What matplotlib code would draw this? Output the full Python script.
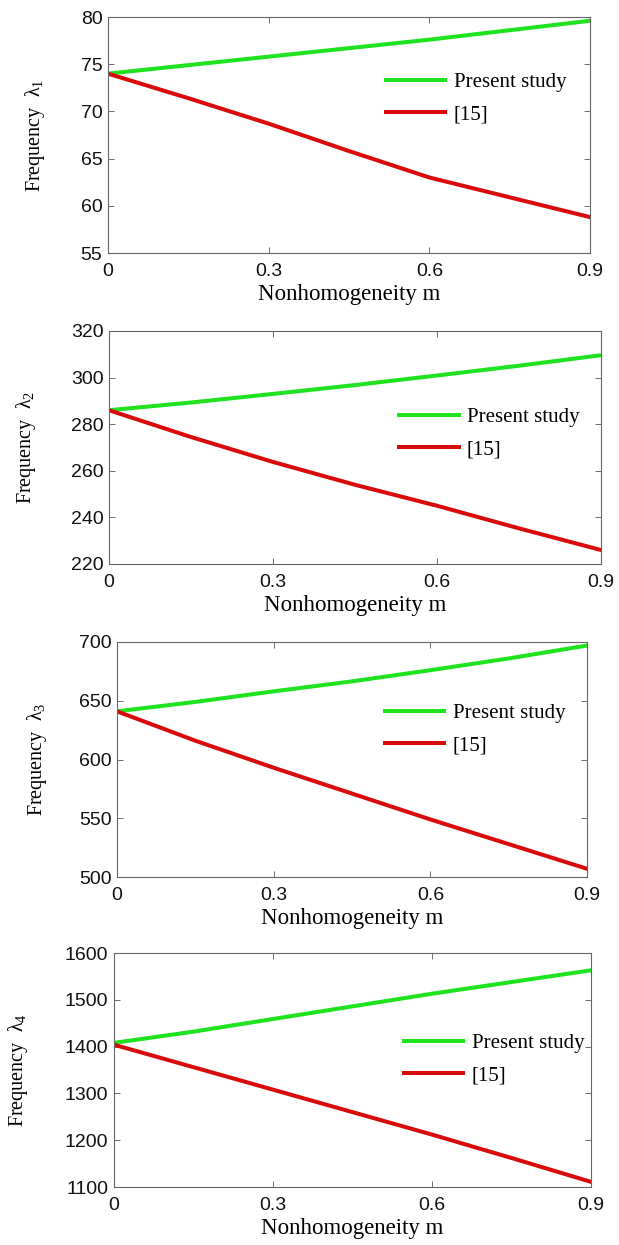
import matplotlib
matplotlib.use("Agg")
import matplotlib.pyplot as plt

# nonhomogeneity parameter
m = [0.0, 0.15, 0.3, 0.45, 0.6, 0.75, 0.9]

# frequencies, modes 1..4
present_1 = [74.0, 74.9, 75.8, 76.7, 77.6, 78.6, 79.6]
ref15_1 = [74.0, 71.4, 68.7, 65.8, 63.0, 60.9, 58.8]
present_2 = [286, 289.3, 293, 296.8, 300.9, 305.1, 309.6]
ref15_2 = [286, 274.5, 263.8, 254, 245, 235.3, 226]
present_3 = [641, 649, 658, 666.5, 676, 686, 697]
ref15_3 = [641, 616, 593, 571, 549, 528, 507]
present_4 = [1408, 1432, 1459, 1486, 1513, 1538, 1563]
ref15_4 = [1404, 1356, 1308, 1260, 1212, 1162, 1111]

x_ticks = [0, 0.3, 0.6, 0.9]
x_ticklabels = ["0", "0.3", "0.6", "0.9"]
y_ticks = [
    [55, 60, 65, 70, 75, 80],
    [220, 240, 260, 280, 300, 320],
    [500, 550, 600, 650, 700],
    [1100, 1200, 1300, 1400, 1500, 1600],
]
present = [present_1, present_2, present_3, present_4]
ref15 = [ref15_1, ref15_2, ref15_3, ref15_4]

W, H = 619, 1245
# axes boxes in pixels: left, top, right, bottom
boxes = [
    (108, 17, 590, 253),
    (109, 331, 601, 564),
    (117, 642, 587, 877),
    (114, 953, 591, 1187),
]
ylab_x = [47, 38, 49, 30]
leg_anchor = [(0.577, 0.765), (0.59, 0.672), (0.57, 0.737), (0.608, 0.655)]

serif = ["Liberation Serif", "DejaVu Serif"]
sans = ["Liberation Sans", "DejaVu Sans"]
plt.rcParams["mathtext.fontset"] = "custom"
plt.rcParams["mathtext.rm"] = "Liberation Serif"

green = "#1fe31f"
red = "#d80a0a"

fig = plt.figure(figsize=(W / 100, H / 100), dpi=100)

for i in range(4):
    l, t, r, b = boxes[i]
    ax = fig.add_axes([l / W, 1 - b / H, (r - l) / W, (b - t) / H])
    ax.plot(m, present[i], color=green, lw=2.9, label="Present study")
    ax.plot(m, ref15[i], color=red, lw=2.9, label="[15]")
    ax.set_xlim(0, 0.9)
    ax.set_ylim(y_ticks[i][0], y_ticks[i][-1])
    ax.set_xticks(x_ticks)
    ax.set_xticklabels(x_ticklabels, family=sans, fontsize=14)
    ax.set_yticks(y_ticks[i])
    ax.set_yticklabels([str(v) for v in y_ticks[i]], family=sans, fontsize=14)
    ax.tick_params(direction="in", top=True, right=True, length=4, width=0.6,
                   colors="#555555", labelcolor="#111111")
    ax.tick_params(axis="x", pad=7)
    ax.tick_params(axis="y", pad=4)
    for s in ax.spines.values():
        s.set_linewidth(0.8)
        s.set_color("#666666")
    ax.set_xlabel("Nonhomogeneity m", family=serif, fontsize=16.5, labelpad=3)
    ax.set_ylabel("Frequency  λ$_{%d}$" % (i + 1), family=serif, fontsize=14.5)
    ax.yaxis.set_label_coords((ylab_x[i] - l) / (r - l), 0.5)
    ax.legend(loc="upper left", bbox_to_anchor=leg_anchor[i], frameon=False,
              prop={"family": serif, "size": 15}, handlelength=2.85,
              handletextpad=0.4, labelspacing=0.6, borderpad=0,
              borderaxespad=0)

fig.savefig("out.png", dpi=100)
